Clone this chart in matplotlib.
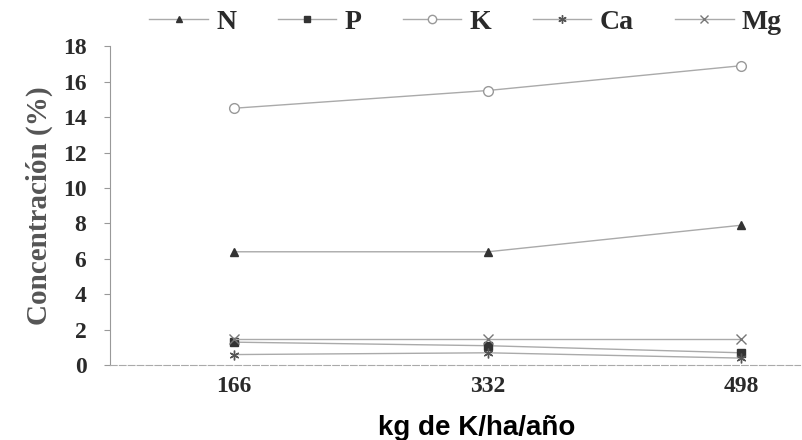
import matplotlib.pyplot as plt
from matplotlib.lines import Line2D

# dosis de K (kg/ha/año)
doses = ['166', '332', '498']

N  = [6.4, 6.4, 7.9]
P  = [1.3, 1.1, 0.7]
K  = [14.5, 15.5, 16.9]
Ca = [0.6, 0.7, 0.4]
Mg = [1.5, 1.5, 1.5]

series = [('N', N), ('P', P), ('K', K), ('Ca', Ca), ('Mg', Mg)]
markers = ['^', 's', 'o', (6, 2, 0), 'x']
mfc = ['#333333', '#333333', 'white', '#555555', '#777777']
mec = ['#333333', '#333333', '#999999', '#555555', '#777777']
msize = [6, 6, 7, 7, 7]

serif = ['Liberation Serif', 'DejaVu Serif']

fig = plt.figure(figsize=(8.03, 4.40), dpi=100)
ax = fig.add_axes([0.137, 0.17, 0.859, 0.725])

x = list(range(len(doses)))
handles = []
for i, (name, vals) in enumerate(series):
    ax.plot(x, vals, color='#aaaaaa', lw=1.0, marker=markers[i], ms=msize[i],
            mfc=mfc[i], mec=mec[i], mew=1.0)
    handles.append(Line2D([], [], color='#aaaaaa', lw=1.0, marker=markers[i], ms=msize[i] - 1,
                          mfc=mfc[i], mec=mec[i], mew=1.0, label=name))

ax.set_xlim(-0.49, 2.23)
ax.set_ylim(0, 18)
ax.set_yticks(range(0, 19, 2))
ax.set_xticks(x)
ax.set_xticklabels(doses)

for s in ['top', 'right']:
    ax.spines[s].set_visible(False)
ax.spines['left'].set_color('#999999')
ax.spines['bottom'].set_color('#aaaaaa')
ax.spines['bottom'].set_linestyle((0, (6, 2)))

ax.tick_params(axis='y', length=4, color='#999999', pad=13)
ax.tick_params(axis='x', length=0, pad=8)
for lab in ax.get_yticklabels() + ax.get_xticklabels():
    lab.set_family(serif)
    lab.set_fontweight('bold')
    lab.set_fontsize(17)
    lab.set_color('#2a2a2a')

ax.set_ylabel('Concentración (%)', family=serif, fontweight='bold', fontsize=21,
              color='#555555', labelpad=7)
ax.set_xlabel('kg de K/ha/año', family=['Liberation Sans', 'DejaVu Sans'],
              fontweight='bold', fontsize=20, color='black')
ax.xaxis.set_label_coords(0.532, -0.155)

leg = fig.legend(handles=handles, loc='center', bbox_to_anchor=(0.58, 0.95), ncol=5,
                 frameon=False, handlelength=2.1, columnspacing=1.5, handletextpad=0.3,
                 borderaxespad=0, borderpad=0,
                 prop={'family': serif, 'weight': 'bold', 'size': 20})
for t in leg.get_texts():
    t.set_color('#2a2a2a')

fig.savefig('out.png', dpi=100)
